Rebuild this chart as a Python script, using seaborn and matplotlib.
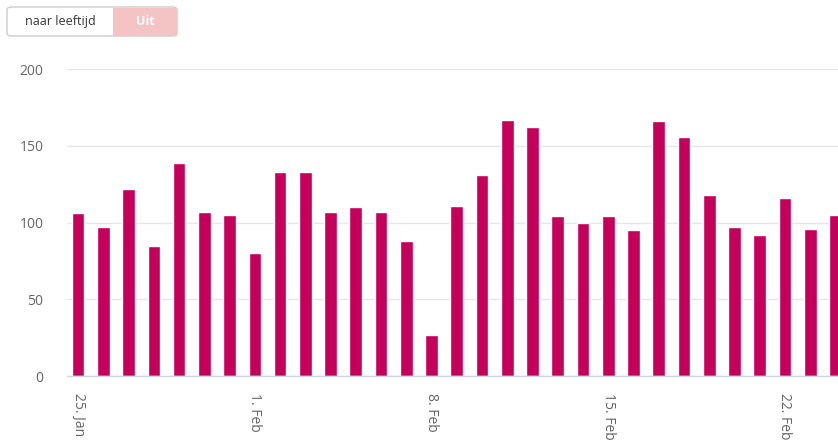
import pandas as pd
import numpy as np
import matplotlib
matplotlib.use('Agg')
import matplotlib.pyplot as plt
import seaborn as sns
from matplotlib.patches import FancyBboxPatch, Rectangle

# daily counts, starting 25 Jan
start_date = '2021-01-25'
values = [106, 97, 122, 85, 139, 107, 105, 80, 133, 133,
          107, 110, 107, 88, 27, 111, 131, 167, 162, 104,
          100, 104, 95, 166, 156, 118, 97, 92, 116, 96, 105]
tick_pos = [0, 7, 14, 21, 28]
tick_labels = ['25. Jan', '1. Feb', '8. Feb', '15. Feb', '22. Feb']
y_ticks = [0, 50, 100, 150, 200]

bar_color = '#C4005A'
grid_color = '#e6e6e6'
axis_color = '#ccd6eb'
label_color = '#666666'

df = pd.DataFrame({'date': pd.date_range(start_date, periods=len(values)), 'count': values})
df['day'] = np.arange(len(df))

sns.set_style('white')
plt.rcParams['font.family'] = ['Open Sans', 'DejaVu Sans']

fig = plt.figure(figsize=(8.38, 4.45), dpi=100)
ax = fig.add_axes([67 / 838, 69 / 445, 1 - 67 / 838, 307 / 445])

sns.barplot(data=df, x='day', y='count', color=bar_color, width=0.5,
            saturation=1, ax=ax, order=df['day'])

ax.set_xlim(-0.44, 30.1)
ax.set_ylim(0, 200)
ax.set_yticks(y_ticks)
ax.set_yticklabels([str(v) for v in y_ticks])
ax.set_xticks(tick_pos)
ax.set_xticklabels(tick_labels, rotation=-90)
ax.set_xlabel('')
ax.set_ylabel('')

ax.grid(axis='y', color=grid_color, linewidth=1)
ax.set_axisbelow(True)
for s in ['top', 'right', 'left']:
    ax.spines[s].set_visible(False)
ax.spines['bottom'].set_color(axis_color)
ax.spines['bottom'].set_linewidth(1)
ax.tick_params(axis='y', length=0, pad=17, labelsize=10, labelcolor=label_color)
ax.tick_params(axis='x', length=8, width=1, color=axis_color, pad=4,
               labelsize=10, labelcolor=label_color)

# toggle button top-left
btn = FancyBboxPatch((7 / 838, 1 - 36 / 445), 170 / 838, 29 / 445,
                     boxstyle='round,pad=0,rounding_size=0.006',
                     transform=fig.transFigure, facecolor='white',
                     edgecolor='#cccccc', linewidth=1)
fig.patches.append(btn)
uit = Rectangle((113 / 838, 1 - 35.5 / 445), 63.5 / 838, 28 / 445,
                transform=fig.transFigure, facecolor='#f4c4c4', edgecolor='none')
fig.patches.append(uit)
fig.text(60 / 838, 1 - 21.5 / 445, 'naar leeftijd', ha='center', va='center',
         fontsize=9, color='#333333')
fig.text(145 / 838, 1 - 21.5 / 445, 'Uit', ha='center', va='center',
         fontsize=9, color='white', fontweight='bold')

fig.savefig('out.png', dpi=100)
